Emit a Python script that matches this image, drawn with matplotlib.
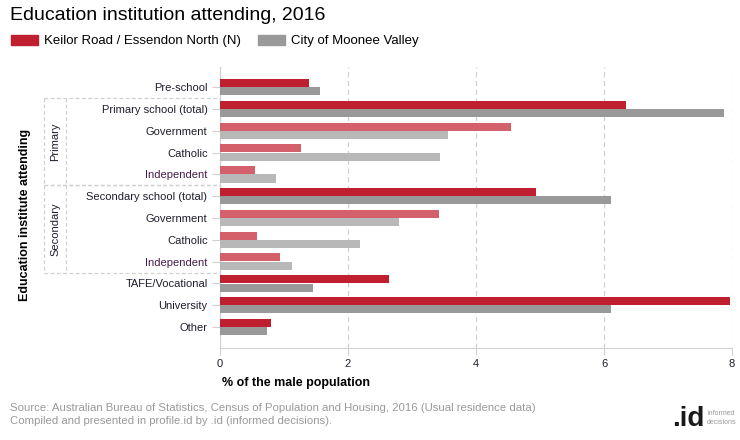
import matplotlib

matplotlib.use("Agg")
import matplotlib.pyplot as plt
from matplotlib.lines import Line2D
from matplotlib.patches import Patch
from matplotlib.transforms import blended_transform_factory

plt.rcParams["font.family"] = ["Liberation Sans", "DejaVu Sans"]

categories = [
    "Pre-school",
    "Primary school (total)",
    "Government",
    "Catholic",
    "Independent",
    "Secondary school (total)",
    "Government",
    "Catholic",
    "Independent",
    "TAFE/Vocational",
    "University",
    "Other",
]
keilor_road = [1.39, 6.34, 4.54, 1.26, 0.54, 4.94, 3.42, 0.58, 0.93, 2.64, 7.97, 0.80]
moonee_valley = [1.57, 7.88, 3.57, 3.43, 0.87, 6.11, 2.79, 2.18, 1.13, 1.46, 6.11, 0.74]
x_ticks = [0, 2, 4, 6, 8]

# schooling groups: (label, total row, last sub row)
group_spans = [("Primary", 1, 4), ("Secondary", 5, 8)]

RED = "#c01f2f"
RED_LIGHT = "#d4606b"
GREY = "#999999"
GREY_LIGHT = "#b8b8b8"
TEXT = "#1e1e2e"
LINE = "#d0d0d0"

# rows under a "(total)" row are drawn lighter
sub_rows = set()
for _, first, last in group_spans:
    sub_rows.update(range(first + 1, last + 1))

red_colors = [RED_LIGHT if i in sub_rows else RED for i in range(len(categories))]
grey_colors = [GREY_LIGHT if i in sub_rows else GREY for i in range(len(categories))]

fig = plt.figure(figsize=(7.4, 4.4), dpi=100)
ax = fig.add_axes([220 / 740, 1 - 348 / 440, 512 / 740, 281 / 440])

pos = list(range(len(categories)))
bar_h = 0.37
ax.barh([p - 0.19 for p in pos], keilor_road, height=bar_h, color=red_colors, zorder=3)
ax.barh([p + 0.19 for p in pos], moonee_valley, height=bar_h, color=grey_colors, zorder=3)

ax.set_xlim(0, 8)
ax.set_ylim(11.96, -0.92)
ax.set_xticks(x_ticks)
ax.set_xticklabels([str(t) for t in x_ticks], fontsize=8, color=TEXT)
ax.set_yticks(pos)
ax.set_yticklabels(categories, fontsize=8, color=TEXT)
for i, lab in enumerate(ax.get_yticklabels()):
    if categories[i] == "Independent":
        lab.set_color("#4a1a4a")

ax.tick_params(axis="y", length=6, color=LINE, pad=3)
ax.tick_params(axis="x", length=5, color=LINE, pad=3)
ax.xaxis.grid(True, linestyle=(0, (4, 3)), color=LINE, linewidth=0.9, zorder=0)
for side in ("top", "right"):
    ax.spines[side].set_visible(False)
for side in ("left", "bottom"):
    ax.spines[side].set_color(LINE)

# group brackets on the left
tr = blended_transform_factory(fig.transFigure, ax.transData)
x_outer = 44 / 740
x_inner = 66 / 740
x_axis = 220 / 740
dash = dict(color=LINE, linewidth=0.9, linestyle=(0, (3, 2)), transform=tr)
for name, first, last in group_spans:
    top = first - 0.5
    bottom = last + 0.5
    fig.add_artist(Line2D([x_outer, x_axis], [top, top], **dash))
    fig.add_artist(Line2D([x_outer, x_axis], [bottom, bottom], **dash))
    fig.add_artist(Line2D([x_outer, x_outer], [top, bottom], **dash))
    fig.add_artist(Line2D([x_inner, x_inner], [top, bottom], **dash))
    fig.text(55 / 740, (top + bottom) / 2, name, transform=tr, rotation=90,
             ha="center", va="center", fontsize=8, color=TEXT)

fig.text(25 / 740, 1 - 215 / 440, "Education institute attending", rotation=90,
         ha="center", va="center", fontsize=9, fontweight="bold", color="black")
fig.text(222 / 740, 1 - 383 / 440, "% of the male population", ha="left", va="center",
         fontsize=9, fontweight="bold", color="black")

fig.text(10 / 740, 1 - 15 / 440, "Education institution attending, 2016", ha="left",
         va="center", fontsize=14, color="black")

handles = [Patch(color=RED, label="Keilor Road / Essendon North (N)"),
           Patch(color=GREY, label="City of Moonee Valley")]
fig.legend(handles=handles, loc="center left", bbox_to_anchor=(6 / 740, 1 - 41 / 440),
           ncol=2, frameon=False, fontsize=9.5, handlelength=2.0, handleheight=0.8,
           handletextpad=0.5, columnspacing=1.3, borderaxespad=0)

fig.text(10 / 740, 1 - 408 / 440,
         "Source: Australian Bureau of Statistics, Census of Population and Housing, 2016 (Usual residence data)",
         ha="left", va="center", fontsize=8.2, color="#999999")
fig.text(10 / 740, 1 - 421 / 440,
         "Compiled and presented in profile.id by .id (informed decisions).",
         ha="left", va="center", fontsize=8.2, color="#999999")

fig.text(705 / 740, 1 - 419 / 440, ".id", ha="right", va="center", fontsize=20,
         fontweight="bold", color="#1a1a1a")
fig.text(707 / 740, 1 - 413 / 440, "informed", ha="left", va="center", fontsize=5, color="#999999")
fig.text(707 / 740, 1 - 422 / 440, "decisions", ha="left", va="center", fontsize=5, color="#999999")

fig.savefig("out.png", dpi=100)
